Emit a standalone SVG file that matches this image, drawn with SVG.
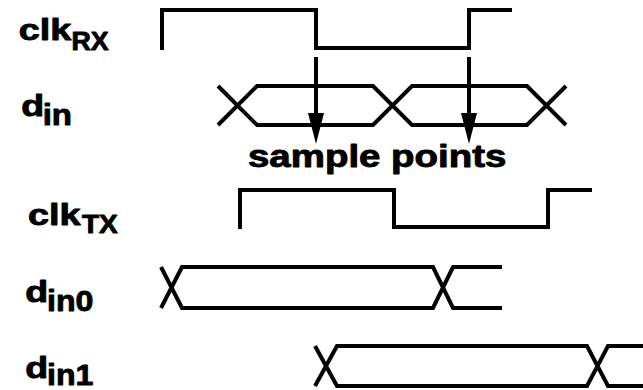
<svg xmlns="http://www.w3.org/2000/svg" width="643" height="390" viewBox="0 0 643 390">
<style>
.w{fill:none;stroke:#000;stroke-width:4;stroke-linejoin:miter;stroke-linecap:butt}
.t{font-family:"Liberation Sans",Arial,sans-serif;font-weight:bold;fill:#000;stroke:#000;stroke-width:0.9;stroke-linejoin:round}
.m{font-size:30px}
.s{font-size:25px}
.n{font-size:30px}
</style>
<rect width="643" height="390" fill="#fff"/>
<g id="clkRX">
<text class="t m" transform="translate(18.7,40) scale(1.26,1)">clk</text>
<text class="t s" transform="translate(71.5,50) scale(1.07,1)">RX</text>
<path class="w" d="M162,50 V10 H316 V48 H469 V10 H512"/>
</g>
<g id="din">
<text class="t m" transform="translate(21.2,116) scale(1.25,1)">d</text>
<text class="t n" transform="translate(42.7,125) scale(1.1,1)">in</text>
<path class="w" d="M218,86 L257,125 H373 L412,86 H527 L566,125 M218,125 L257,86 H373 L412,125 H527 L566,86"/>
</g>
<g id="sample-points">
<text class="t" font-size="31" transform="translate(248,166.7) scale(1.24,1)">sample points</text>
</g>
<g id="clkTX">
<text class="t m" transform="translate(28,225) scale(1.26,1)">clk</text>
<text class="t s" transform="translate(82,233.3) scale(1.12,1)">TX</text>
<path class="w" d="M240,229 V190 H394 V227 H548 V190 H592"/>
</g>
<g id="din0">
<text class="t m" transform="translate(25.2,301.7) scale(1.25,1)">d</text>
<text class="t n" transform="translate(47,310.7) scale(1.07,1)">in0</text>
<path class="w" d="M161,267 L182,308 H433 L453,267 H502 M161,308 L182,267 H433 L453,308 H502"/>
</g>
<g id="din1">
<text class="t m" transform="translate(25.2,378.3) scale(1.25,1)">d</text>
<text class="t n" transform="translate(47,385) scale(1.07,1)">in1</text>
<path class="w" d="M315,346 L337,386 H587 L608,346 H643 M315,386 L337,346 H587 L608,386 H643"/>
</g>
<g id="connectors">
<path class="w" d="M316,57 V115 M469,57 V115"/>
<polygon points="308,113 324,113 316,144"/>
<polygon points="461,113 477,113 469,144"/>
</g>
</svg>
